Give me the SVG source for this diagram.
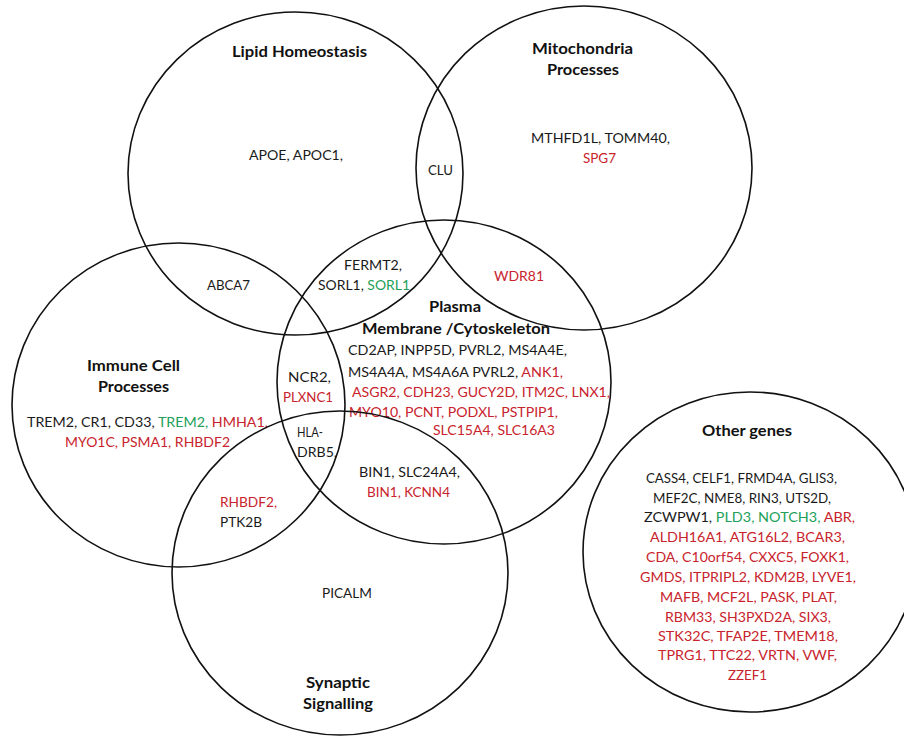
<svg xmlns="http://www.w3.org/2000/svg" width="904" height="737" viewBox="0 0 904 737">
<style>
.c{fill:none;stroke:#111;stroke-width:1.6}
text{font-family:Lato,"Open Sans","Liberation Sans",sans-serif;font-size:13px;fill:#1a1a1a}
.t{font-weight:bold;font-size:14.5px;fill:#111}
.r{fill:#c8232c}
.g{fill:#22a05a}
</style>
<rect width="904" height="737" fill="#fff"/>
<g id="lipid">
<ellipse class="c" cx="295.5" cy="173.5" rx="167.5" ry="161.5"/>
<text class="t" x="232" y="57" textLength="135" lengthAdjust="spacingAndGlyphs">Lipid Homeostasis</text>
<text x="249" y="160" textLength="94" lengthAdjust="spacingAndGlyphs">APOE, APOC1,</text>
</g>
<g id="mitochondria">
<ellipse class="c" cx="584" cy="168" rx="168" ry="162"/>
<text class="t" x="532" y="54" textLength="101" lengthAdjust="spacingAndGlyphs">Mitochondria</text>
<text class="t" x="547" y="75" textLength="72" lengthAdjust="spacingAndGlyphs">Processes</text>
<text x="531" y="143" textLength="139" lengthAdjust="spacingAndGlyphs">MTHFD1L, TOMM40,</text>
<text class="r" x="583" y="163" textLength="33" lengthAdjust="spacingAndGlyphs">SPG7</text>
</g>
<g id="immune">
<ellipse class="c" cx="178.5" cy="405" rx="166.5" ry="162"/>
<text class="t" x="87" y="371" textLength="93" lengthAdjust="spacingAndGlyphs">Immune Cell</text>
<text class="t" x="98" y="392" textLength="71" lengthAdjust="spacingAndGlyphs">Processes</text>
<text x="27" y="427" textLength="241" lengthAdjust="spacingAndGlyphs">TREM2, CR1, CD33, <tspan class="g">TREM2, </tspan><tspan class="r">HMHA1,</tspan></text>
<text class="r" x="65" y="447" textLength="165" lengthAdjust="spacingAndGlyphs">MYO1C, PSMA1, RHBDF2</text>
</g>
<g id="plasma">
<ellipse class="c" cx="444" cy="382" rx="167" ry="162"/>
<text class="t" x="429" y="312" textLength="52" lengthAdjust="spacingAndGlyphs">Plasma</text>
<text class="t" x="362" y="334" textLength="188" lengthAdjust="spacingAndGlyphs">Membrane /Cytoskeleton</text>
<text x="348" y="355" textLength="219" lengthAdjust="spacingAndGlyphs">CD2AP, INPP5D, PVRL2, MS4A4E,</text>
<text x="348" y="377" textLength="215" lengthAdjust="spacingAndGlyphs">MS4A4A, MS4A6A PVRL2, <tspan class="r">ANK1,</tspan></text>
<text class="r" x="352" y="397" textLength="258" lengthAdjust="spacingAndGlyphs">ASGR2, CDH23, GUCY2D, ITM2C, LNX1,</text>
<text class="r" x="349" y="417" textLength="209" lengthAdjust="spacingAndGlyphs">MYO10, PCNT, PODXL, PSTPIP1,</text>
<text class="r" x="433" y="435" textLength="122" lengthAdjust="spacingAndGlyphs">SLC15A4, SLC16A3</text>
</g>
<g id="synaptic">
<ellipse class="c" cx="340" cy="573" rx="168" ry="162"/>
<text x="322" y="598" textLength="50" lengthAdjust="spacingAndGlyphs">PICALM</text>
<text class="t" x="306" y="688" textLength="64" lengthAdjust="spacingAndGlyphs">Synaptic</text>
<text class="t" x="303" y="709" textLength="70" lengthAdjust="spacingAndGlyphs">Signalling</text>
</g>
<g id="other">
<ellipse class="c" cx="750" cy="552" rx="167" ry="160"/>
<text class="t" x="702" y="436" textLength="90" lengthAdjust="spacingAndGlyphs">Other genes</text>
<text x="646" y="483" textLength="191" lengthAdjust="spacingAndGlyphs">CASS4, CELF1, FRMD4A, GLIS3,</text>
<text x="653" y="503" textLength="178" lengthAdjust="spacingAndGlyphs">MEF2C, NME8, RIN3, UTS2D,</text>
<text x="644" y="522" textLength="211" lengthAdjust="spacingAndGlyphs">ZCWPW1, <tspan class="g">PLD3, NOTCH3, </tspan><tspan class="r">ABR,</tspan></text>
<text class="r" x="650" y="542" textLength="195" lengthAdjust="spacingAndGlyphs">ALDH16A1, ATG16L2, BCAR3,</text>
<text class="r" x="646" y="562" textLength="203" lengthAdjust="spacingAndGlyphs">CDA, C10orf54, CXXC5, FOXK1,</text>
<text class="r" x="640" y="582" textLength="216" lengthAdjust="spacingAndGlyphs">GMDS, ITPRIPL2, KDM2B, LYVE1,</text>
<text class="r" x="660" y="602" textLength="177" lengthAdjust="spacingAndGlyphs">MAFB, MCF2L, PASK, PLAT,</text>
<text class="r" x="665" y="622" textLength="166" lengthAdjust="spacingAndGlyphs">RBM33, SH3PXD2A, SIX3,</text>
<text class="r" x="658" y="641" textLength="180" lengthAdjust="spacingAndGlyphs">STK32C, TFAP2E, TMEM18,</text>
<text class="r" x="658" y="660" textLength="179" lengthAdjust="spacingAndGlyphs">TPRG1, TTC22, VRTN, VWF,</text>
<text class="r" x="728" y="680" textLength="39" lengthAdjust="spacingAndGlyphs">ZZEF1</text>
</g>
<g id="lipid-mito">
<text x="428" y="175" textLength="25" lengthAdjust="spacingAndGlyphs">CLU</text>
</g>
<g id="mito-plasma">
<text class="r" x="494" y="281" textLength="50" lengthAdjust="spacingAndGlyphs">WDR81</text>
</g>
<g id="lipid-immune">
<text x="207" y="290" textLength="43" lengthAdjust="spacingAndGlyphs">ABCA7</text>
</g>
<g id="lipid-plasma">
<text x="344" y="270" textLength="58" lengthAdjust="spacingAndGlyphs">FERMT2,</text>
<text x="318" y="290" textLength="92" lengthAdjust="spacingAndGlyphs">SORL1, <tspan class="g">SORL1</tspan></text>
</g>
<g id="immune-plasma">
<text x="288" y="382" textLength="43" lengthAdjust="spacingAndGlyphs">NCR2,</text>
<text class="r" x="283" y="402" textLength="50" lengthAdjust="spacingAndGlyphs">PLXNC1</text>
</g>
<g id="immune-plasma-synaptic">
<text x="297" y="437" textLength="26" lengthAdjust="spacingAndGlyphs">HLA-</text>
<text x="297" y="457" textLength="40" lengthAdjust="spacingAndGlyphs">DRB5,</text>
</g>
<g id="plasma-synaptic">
<text x="359" y="477" textLength="101" lengthAdjust="spacingAndGlyphs">BIN1, SLC24A4,</text>
<text class="r" x="367" y="497" textLength="83" lengthAdjust="spacingAndGlyphs">BIN1, KCNN4</text>
</g>
<g id="immune-synaptic">
<text class="r" x="220" y="507" textLength="57" lengthAdjust="spacingAndGlyphs">RHBDF2,</text>
<text x="220" y="527" textLength="42" lengthAdjust="spacingAndGlyphs">PTK2B</text>
</g>
<g id="connectors"/>
</svg>
